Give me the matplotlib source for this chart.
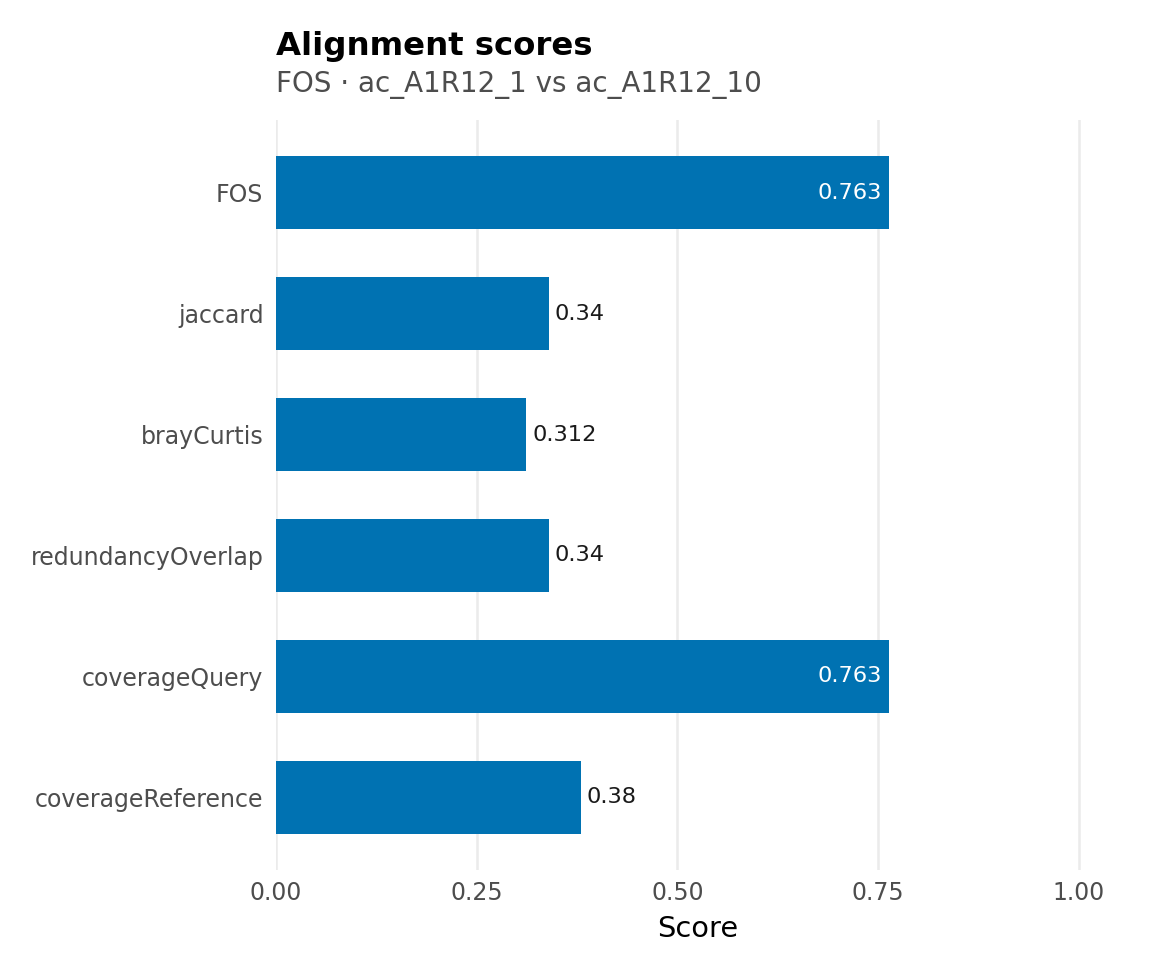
import matplotlib
matplotlib.use('Agg')
import matplotlib.pyplot as plt

# data
metrics = ['FOS', 'jaccard', 'brayCurtis', 'redundancyOverlap', 'coverageQuery', 'coverageReference']
scores = [0.763, 0.34, 0.312, 0.34, 0.763, 0.38]
labels = ['0.763', '0.34', '0.312', '0.34', '0.763', '0.38']
xticks = [0.0, 0.25, 0.5, 0.75, 1.0]
xticklabels = ['0.00', '0.25', '0.50', '0.75', '1.00']

plt.rcParams['font.family'] = ['DejaVu Sans']

fig = plt.figure(figsize=(11.52, 9.6), dpi=100)
ax = fig.add_axes([276 / 1152, 1 - 870 / 960, 843 / 1152, 750 / 960])

ypos = list(range(len(metrics)))[::-1]
ax.barh(ypos, scores, height=0.6, color='#0072B2', zorder=2)

for y, v, lab in zip(ypos, scores, labels):
    if v > 0.6:
        ax.annotate(lab, (v, y), xytext=(-5, 0), textcoords='offset points',
                    ha='right', va='center', color='white', fontsize=16.2)
    else:
        ax.annotate(lab, (v, y), xytext=(4, 0), textcoords='offset points',
                    ha='left', va='center', color='#1a1a1a', fontsize=16.2)

ax.set_xlim(0, 1.05)
ax.set_ylim(-0.6, len(metrics) - 0.4)
ax.set_xticks(xticks)
ax.set_xticklabels(xticklabels)
ax.set_yticks(ypos)
ax.set_yticklabels(metrics)
ax.tick_params(axis='both', length=0, labelsize=17, labelcolor='#4d4d4d')
ax.tick_params(axis='x', pad=8)
ax.tick_params(axis='y', pad=9)
ax.xaxis.grid(True, color='#ebebeb', linewidth=1.8, zorder=0)
ax.yaxis.grid(False)
ax.set_axisbelow(True)
for s in ax.spines.values():
    s.set_visible(False)
ax.set_xlabel('Score', fontsize=20.8, color='black', labelpad=7)

fig.text(276 / 1152, 1 - 55 / 960, 'Alignment scores', fontsize=23.3, fontweight='bold',
         ha='left', va='baseline', color='black')
fig.text(276 / 1152, 1 - 92 / 960, 'FOS \u00b7 ac_A1R12_1 vs ac_A1R12_10', fontsize=20,
         ha='left', va='baseline', color='#4d4d4d')

fig.savefig('out.png', dpi=100, facecolor='white')
